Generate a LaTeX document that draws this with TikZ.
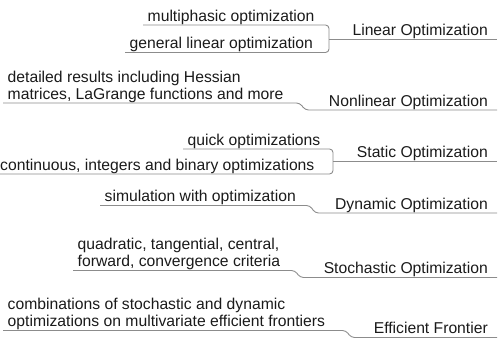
\documentclass[tikz,border=0pt]{standalone}
\usepackage{fontspec}
\newfontfamily\lblfont{Liberation Sans}
\newcommand\lblsize{\lblfont\fontsize{15.7}{17}\selectfont}
\newcommand\dstrut{\rule[-3.6pt]{0pt}{3.6pt}}
\definecolor{linec}{HTML}{8C8C8C}
\definecolor{textc}{HTML}{1A1A1A}
\tikzset{
  leaf/.style={anchor=south west, inner xsep=4.5pt, inner ysep=0pt, align=left, font=\lblsize, text=textc},
  topic/.style={anchor=south east, inner xsep=9pt, inner ysep=0pt, font=\lblsize, text=textc},
  conn/.style={draw=linec, line width=0.9pt, rounded corners=3.5pt},
}
\begin{document}
\begin{tikzpicture}[x=1pt, y=-1pt]
\useasboundingbox (0,0) rectangle (498,342);
% ---------- Linear Optimization
\node[topic] (m1) at (497,39.5) {Linear Optimization\dstrut};
\node[leaf] (c1a) at (143,25) {multiphasic optimization\dstrut};
\node[leaf] (c1b) at (125,52.5) {general linear optimization\dstrut};
\coordinate (j1) at (329,39.5);
\draw[conn] (c1a.south west) -- (c1a.south west -| j1) -- (c1b.south west -| j1) -- (c1b.south west);
\draw[conn] (j1) -- (m1.south east);
% ---------- Nonlinear Optimization
\node[topic] (m2) at (497,110) {Nonlinear Optimization\dstrut};
\node[leaf] (c2) at (3,103) {detailed results including Hessian\\matrices, LaGrange functions and more\dstrut};
\coordinate (k2a) at (300,0);
\coordinate (k2b) at (305,0);
\draw[conn] (c2.south west) -- (k2a |- c2.south west) -- (k2b |- m2.south east) -- (m2.south east);
% ---------- Static Optimization
\node[topic] (m3) at (497,161.5) {Static Optimization\dstrut};
\node[leaf] (c3a) at (183,149) {quick optimizations\dstrut};
\node[leaf] (c3b) at (-4.5,174) {continuous, integers and binary optimizations\dstrut};
\coordinate (j3) at (333,161.5);
\draw[conn] (c3a.south west) -- (c3a.south west -| j3) -- (c3b.south west -| j3) -- (c3b.south west);
\draw[conn] (j3) -- (m3.south east);
% ---------- Dynamic Optimization
\node[topic] (m4) at (497,213) {Dynamic Optimization\dstrut};
\node[leaf] (c4) at (100,205.5) {simulation with optimization\dstrut};
\coordinate (k4a) at (310,0);
\coordinate (k4b) at (315,0);
\draw[conn] (c4.south west) -- (k4a |- c4.south west) -- (k4b |- m4.south east) -- (m4.south east);
% ---------- Stochastic Optimization
\node[topic] (m5) at (497,277.5) {Stochastic Optimization\dstrut};
\node[leaf] (c5) at (73,270.5) {quadratic, tangential, central,\\forward, convergence criteria\dstrut};
\coordinate (k5a) at (295,0);
\coordinate (k5b) at (300,0);
\draw[conn] (c5.south west) -- (k5a |- c5.south west) -- (k5b |- m5.south east) -- (m5.south east);
% ---------- Efficient Frontier
\node[topic] (m6) at (497,337.5) {Efficient Frontier\dstrut};
\node[leaf] (c6) at (3,330.5) {combinations of stochastic and dynamic\\optimizations on multivariate efficient frontiers\dstrut};
\coordinate (k6a) at (346,0);
\coordinate (k6b) at (351,0);
\draw[conn] (c6.south west) -- (k6a |- c6.south west) -- (k6b |- m6.south east) -- (m6.south east);
\end{tikzpicture}
\end{document}
